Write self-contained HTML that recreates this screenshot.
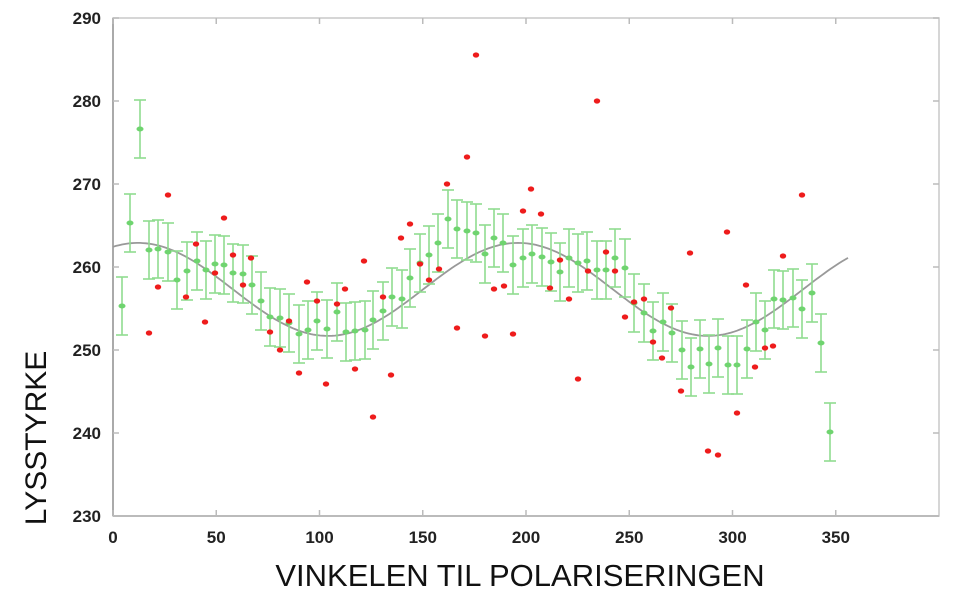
<!DOCTYPE html>
<html><head><meta charset="utf-8"><style>
html,body{margin:0;padding:0;background:#fff;}
svg{display:block;font-family:"Liberation Sans",sans-serif;}
</style></head><body>
<svg id="s" width="960" height="602" viewBox="0 0 960 602" xmlns="http://www.w3.org/2000/svg">
<rect x="113" y="18" width="826" height="498" fill="none" stroke="#c8c8c8" stroke-width="1.5"/>
<line x1="113" y1="18" x2="113" y2="516" stroke="#aaa" stroke-width="2"/>
<line x1="113" y1="516" x2="939" y2="516" stroke="#bbb" stroke-width="2"/>
<g id="ax" font-size="17" font-weight="bold" fill="#222"></g>
<path id="curve" fill="none" stroke="#999" stroke-width="1.8"/>
<g id="g" stroke="#8fdc8f" stroke-width="1.6" fill="#6fd46f"></g>
<g id="r" fill="#ee1c1c"></g>
<text x="520" y="586" font-size="31" text-anchor="middle" fill="#111">VINKELEN TIL POLARISERINGEN</text>
<text transform="translate(46,438) rotate(-90)" font-size="30" text-anchor="middle" fill="#111">LYSSTYRKE</text>
</svg>
<script>
var NS="http://www.w3.org/2000/svg";
function el(p,t,a,txt){var e=document.createElementNS(NS,t);for(var k in a)e.setAttribute(k,a[k]);if(txt!=null)e.textContent=txt;document.getElementById(p).appendChild(e);return e;}
for(var v=230;v<=290;v+=10){var y=516-(v-230)*8.3;
el("ax","text",{x:101,y:y+6,"text-anchor":"end"},v);
el("ax","line",{x1:113,y1:y,x2:119,y2:y,stroke:"#bbb","stroke-width":1.5});
el("ax","line",{x1:933,y1:y,x2:939,y2:y,stroke:"#bbb","stroke-width":1.5});}
for(var d=0;d<=350;d+=50){var x=113+d*2.065;
el("ax","text",{x:x,y:543,"text-anchor":"middle"},d);
el("ax","line",{x1:x,y1:516,x2:x,y2:510,stroke:"#bbb","stroke-width":1.5});
el("ax","line",{x1:x,y1:18,x2:x,y2:24,stroke:"#bbb","stroke-width":1.5});}
var p="";for(var x=113;x<=848;x+=3){var y=289.4-46.5*Math.cos(2*Math.PI*(x-138)/380);p+=(x==113?"M":"L")+x+","+y.toFixed(1);}
document.getElementById("curve").setAttribute("d",p);
var G=[[122,306],[130,223],[140,129],[149,250],[158,249],[168,252],[177,280],[187,271],[197,261],[206,270],[215,264],[224,265],[233,273],[243,274],[252,285],[261,301],[270,317],[280,318],[289,323],[299,334],[308,330],[317,321],[327,329],[337,312],[346,332],[355,331],[365,330],[373,320],[383,311],[392,297],[402,299],[410,278],[420,263],[429,255],[438,243],[448,219],[457,229],[467,231],[476,233],[485,254],[494,238],[503,243],[513,265],[523,258],[532,254],[542,257],[551,262],[560,272],[569,258],[578,263],[587,261],[597,270],[606,270],[615,258],[625,268],[634,303],[644,313],[653,331],[663,322],[672,333],[682,350],[691,367],[700,349],[709,364],[718,348],[728,365],[737,365],[747,349],[756,322],[765,330],[774,299],[783,300],[793,298],[802,309],[812,293],[821,343],[830,432]];
G.forEach(function(q){var x=q[0],y=q[1],e=29;
el("g","line",{x1:x,y1:y-e,x2:x,y2:y+e});
el("g","line",{x1:x-6,y1:y-e,x2:x+6,y2:y-e});
el("g","line",{x1:x-6,y1:y+e,x2:x+6,y2:y+e});
el("g","ellipse",{cx:x,cy:y,rx:3.5,ry:2.5,stroke:"none"});});
var R=[[149,333],[158,287],[168,195],[186,297],[196,244],[205,322],[215,273],[224,218],[233,255],[243,285],[251,258],[270,332],[280,350],[289,321],[299,373],[307,282],[317,301],[326,384],[337,304],[345,289],[355,369],[364,261],[373,417],[383,297],[391,375],[401,238],[410,224],[420,264],[429,280],[439,269],[447,184],[457,328],[467,157],[476,55],[485,336],[494,289],[504,286],[513,334],[523,211],[531,189],[541,214],[550,288],[560,260],[569,299],[578,379],[588,271],[597,101],[606,252],[615,271],[625,317],[634,302],[644,299],[653,342],[662,358],[671,308],[681,391],[690,253],[708,451],[718,455],[727,232],[737,413],[746,285],[755,367],[765,348],[773,346],[783,256],[802,195]];
R.forEach(function(q){el("r","ellipse",{cx:q[0],cy:q[1],rx:3.2,ry:2.6});});
</script>
</body></html>
